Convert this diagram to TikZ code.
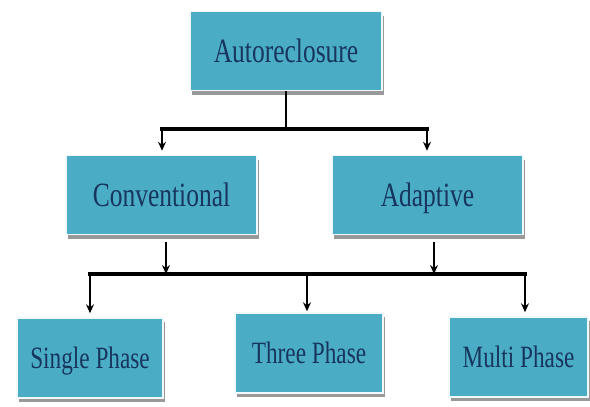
\documentclass[tikz,border=0pt]{standalone}
\usepackage{fontspec}
\newfontfamily\boxfont[FakeStretch=0.75]{Liberation Serif}
\usetikzlibrary{arrows.meta,shadows}
\definecolor{boxfill}{HTML}{4BACC6}
\definecolor{boxtext}{HTML}{17365D}

\begin{document}
\begin{tikzpicture}[x=1pt,y=-1pt,>={Stealth[length=9pt,width=8pt,inset=3pt]},
  box/.style={rectangle,draw=cyan!6,line width=1.5pt,fill=boxfill,text=boxtext,inner sep=0pt,
    drop shadow={shadow xshift=2pt,shadow yshift=-4pt,fill=black!40,opacity=1}},
  bigbox/.style={box,minimum height=79pt,text height=23pt,text depth=0pt,
    font=\boxfont\fontsize{34}{34}\selectfont},
  smallbox/.style={box,minimum height=80pt,text height=20.5pt,text depth=0pt,
    font=\boxfont\fontsize{31}{31}\selectfont},
  bar/.style={line width=3.5pt,line cap=rect},
  stem/.style={line width=1.6pt}]
  \useasboundingbox (0,0) rectangle (590,407);
  \node[bigbox,minimum width=192pt] (auto) at (286,51) {Autoreclosure};
  \node[bigbox,minimum width=191pt] (conv) at (161.5,195) {Conventional};
  \node[bigbox,minimum width=191pt] (adap) at (427.5,195) {Adaptive};
  \node[smallbox,minimum width=146pt] (single) at (90,358) {Single Phase};
  \node[smallbox,minimum width=148pt] (three) at (309,353) {Three Phase};
  \node[smallbox,minimum width=139pt] (multi) at (518.5,357) {Multi Phase};
  % first level
  \coordinate (t0) at (286,129);
  \coordinate (t1) at (162,129);
  \coordinate (t2) at (427,129);
  \draw[line width=2.4pt] (auto) -- (t0);
  \draw[bar] (t1) -- (t2);
  \draw[stem,->,shorten >=4pt] (t1) -- (t1 |- conv.north);
  \draw[stem,->,shorten >=4pt] (t2) -- (t2 |- adap.north);
  % second level
  \coordinate (b1) at (90,274);
  \coordinate (b2) at (307,274);
  \coordinate (b3) at (525,274);
  \coordinate (c1) at (166,274);
  \coordinate (c2) at (434,274);
  \draw[bar] (b1) -- (b3);
  \draw[stem,->,shorten <=7pt] (c1 |- conv.south) -- (c1);
  \draw[stem,->,shorten <=7pt] (c2 |- adap.south) -- (c2);
  \draw[stem,->,shorten >=4pt] (b1) -- (b1 |- single.north);
  \draw[stem,->,shorten >=1pt] (b2) -- (b2 |- three.north);
  \draw[stem,->,shorten >=4pt] (b3) -- (b3 |- multi.north);
\end{tikzpicture}
\end{document}
